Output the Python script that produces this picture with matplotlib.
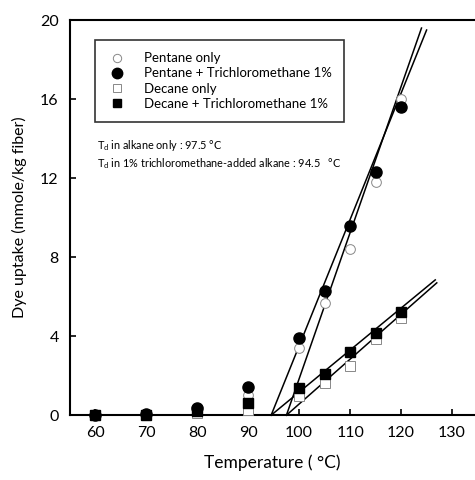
import matplotlib
matplotlib.use("Agg")
import matplotlib.pyplot as plt
from matplotlib.lines import Line2D

plt.rcParams['font.family'] = ['Lato', 'DejaVu Sans']
plt.rcParams['mathtext.fontset'] = 'custom'
plt.rcParams['mathtext.rm'] = 'Lato'
plt.rcParams['mathtext.it'] = 'Lato'

# Dye uptake (mmole/kg fiber) versus dyeing temperature
temps = [60, 70, 80, 90, 100, 105, 110, 115, 120]
pentane_only = [0.0, 0.0, 0.15, 1.0, 3.4, 5.7, 8.4, 11.8, 16.0]
pentane_tcm = [0.0, 0.05, 0.35, 1.45, 3.9, 6.3, 9.6, 12.3, 15.6]
decane_only = [0.0, 0.0, 0.1, 0.25, 0.95, 1.65, 2.5, 3.85, 4.9]
decane_tcm = [0.0, 0.0, 0.2, 0.6, 1.4, 2.1, 3.2, 4.15, 5.25]

# Fitted lines: (x-intercept, end temperature, end uptake)
fit_pentane_only = (97.5, 124.0, 19.6)
fit_pentane_tcm = (94.5, 125.0, 19.5)
fit_decane_only = (97.5, 127.0, 6.7)
fit_decane_tcm = (94.5, 126.7, 6.85)

x_ticks = [60, 70, 80, 90, 100, 110, 120, 130]
y_ticks = [0, 4, 8, 12, 16, 20]

fig = plt.figure(figsize=(4.75, 4.8), dpi=100)
ax = fig.add_axes([0.147, 0.135, 0.853, 0.823])

for x0, x1, y1 in (fit_pentane_only, fit_pentane_tcm, fit_decane_only, fit_decane_tcm):
    ax.plot([x0, x1], [0, y1], color='black', lw=1.1, zorder=2, clip_on=False)

open_style = dict(markerfacecolor='white', markeredgecolor='#888888', markeredgewidth=0.7,
                  linestyle='none', zorder=3, clip_on=False)
filled_style = dict(color='black', linestyle='none', zorder=4, clip_on=False)

ax.plot(temps, pentane_only, marker='o', markersize=7, **open_style)
ax.plot(temps, decane_only, marker='s', markersize=6.5, **open_style)
ax.plot(temps, pentane_tcm, marker='o', markersize=8, **filled_style)
ax.plot(temps, decane_tcm, marker='s', markersize=7, **filled_style)

ax.set_xlim(55, 134.5)
ax.set_ylim(0, 20)
ax.set_xticks(x_ticks)
ax.set_yticks(y_ticks)
ax.tick_params(direction='in', length=4, width=1.2, labelsize=11.5, pad=8)
for side in ('left', 'bottom', 'top'):
    ax.spines[side].set_linewidth(1.5)
ax.spines['right'].set_visible(False)

ax.set_xlabel('Temperature ( °C)', fontsize=12.5, labelpad=10)
ax.set_ylabel('Dye uptake (mmole/kg fiber)', fontsize=11.5, labelpad=9)

handles = [
    Line2D([], [], marker='o', markersize=6, markerfacecolor='white', markeredgecolor='#888888',
           markeredgewidth=0.7, linestyle='none'),
    Line2D([], [], marker='o', markersize=7.5, color='black', linestyle='none'),
    Line2D([], [], marker='s', markersize=6, markerfacecolor='white', markeredgecolor='#888888',
           markeredgewidth=0.7, linestyle='none'),
    Line2D([], [], marker='s', markersize=6, color='black', linestyle='none'),
]
labels = ['Pentane only', 'Pentane + Trichloromethane 1%', 'Decane only',
          'Decane + Trichloromethane 1%']
leg = ax.legend(handles, labels, loc='upper left', bbox_to_anchor=(0.062, 0.949),
                fontsize=9.5, frameon=True, fancybox=False, edgecolor='black',
                handletextpad=1.3, labelspacing=0.25, borderpad=0.9, handlelength=1.5,
                borderaxespad=0)
leg.get_frame().set_linewidth(1.2)

ax.text(0.067, 0.683, r'T$_d$ in alkane only : 97.5 °C', transform=ax.transAxes,
        fontsize=7.8, va='center', ha='left')
ax.text(0.067, 0.638, r'T$_d$ in 1% trichloromethane-added alkane : 94.5   °C',
        transform=ax.transAxes, fontsize=7.8, va='center', ha='left')

fig.savefig('out.png', dpi=100)
